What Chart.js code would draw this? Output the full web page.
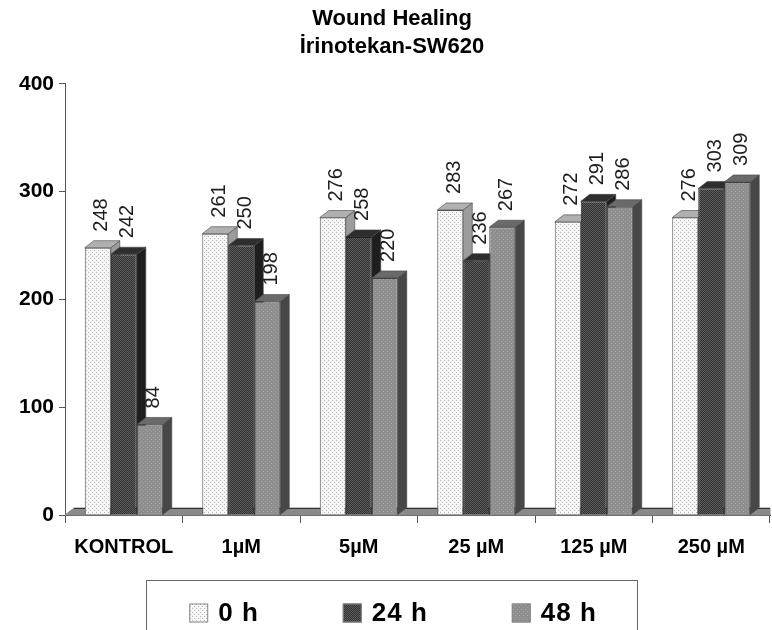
<!DOCTYPE html>
<html>
<head>
<meta charset="utf-8">
<script src="https://cdn.jsdelivr.net/npm/chart.js@4.4.1/dist/chart.umd.min.js"></script>
<style>
  html, body { margin: 0; padding: 0; background: #fff; overflow: hidden; }
  #wrap { width: 772px; height: 630px; position: relative; }
</style>
</head>
<body>
<div id="wrap"><canvas id="grafico"></canvas></div>
<script>
const categories = ['KONTROL', '1µM', '5µM', '25 µM', '125 µM', '250 µM'];
const seriesNames = ['0 h', '24 h', '48 h'];
const values0h = [248, 261, 276, 283, 272, 276];
const values24h = [242, 250, 258, 236, 291, 303];
const values48h = [84, 198, 220, 267, 286, 309];
const yTicks = [0, 100, 200, 300, 400];
const chartTitle = ['Wound Healing', 'İrinotekan-SW620'];

const FONT = "'Liberation Sans', Arial, sans-serif";
Chart.defaults.font.family = FONT;

// small texture tiles for the bar faces
function pattern(w, h, base, dots) {
  const t = document.createElement('canvas');
  t.width = w; t.height = h;
  const g = t.getContext('2d');
  g.fillStyle = base;
  g.fillRect(0, 0, w, h);
  dots.forEach(([x, y, col]) => { g.fillStyle = col; g.fillRect(x, y, 1, 1); });
  return g.createPattern(t, 'repeat');
}
const fill0h = pattern(4, 4, '#f6f6f6', [[0, 0, '#b5b5b5'], [2, 2, '#b5b5b5']]);
const fill24h = pattern(2, 2, '#333333', [[0, 0, '#5c5c5c'], [1, 1, '#5c5c5c']]);
const fill48h = pattern(4, 4, '#8e8e8e', [[1, 1, '#a2a2a2'], [3, 3, '#a2a2a2']]);
const fills = [fill0h, fill24h, fill48h];

const depthX = 9, depthY = 7;
const faces = [
  { side: '#9c9c9c', top: '#b0b0b0' },
  { side: '#1e1e1e', top: '#2e2e2e' },
  { side: '#474747', top: '#6a6a6a' }
];

function poly(c, pts) {
  c.beginPath();
  pts.forEach(([x, y], i) => i ? c.lineTo(x, y) : c.moveTo(x, y));
  c.closePath();
  c.fill();
  c.stroke();
}

// floor + side/top faces, then the library's own bar drawing, dataset by dataset
const barras3d = {
  id: 'barras3d',
  beforeDatasetsDraw(chart) {
    const c = chart.ctx, a = chart.chartArea;
    c.save();
    c.fillStyle = '#8a8a8a';
    c.strokeStyle = '#8a8a8a';
    poly(c, [[a.left, a.bottom], [a.left + depthX, a.bottom - depthY], [a.right, a.bottom - depthY], [a.right, a.bottom]]);
    c.strokeStyle = '#333';
    c.beginPath();
    c.moveTo(a.left + depthX, a.bottom - depthY + 0.5);
    c.lineTo(a.right, a.bottom - depthY + 0.5);
    c.stroke();

    c.lineWidth = 0.6;
    chart.data.datasets.forEach((ds, i) => {
      const meta = chart.getDatasetMeta(i);
      meta.data.forEach(el => {
        const { x, y, base, width } = el.getProps(['x', 'y', 'base', 'width'], true);
        const l = x - width / 2, r = x + width / 2;
        c.strokeStyle = '#444';
        c.fillStyle = faces[i].side;
        poly(c, [[r, y], [r + depthX, y - depthY], [r + depthX, base - depthY], [r, base]]);
        c.fillStyle = faces[i].top;
        poly(c, [[l, y], [l + depthX, y - depthY], [r + depthX, y - depthY], [r, y]]);
        el.draw(c, a);
      });
    });
    c.restore();
    return false;
  }
};

// rotated value labels + legend box
const rotulos = {
  id: 'rotulos',
  afterDraw(chart) {
    const c = chart.ctx, a = chart.chartArea;
    c.save();
    c.fillStyle = '#1e1e1e';
    c.font = '20px ' + FONT;
    c.textAlign = 'left';
    c.textBaseline = 'middle';
    chart.data.datasets.forEach((ds, i) => {
      chart.getDatasetMeta(i).data.forEach((el, j) => {
        c.save();
        c.translate(el.x + 4, el.y - depthY - 9);
        c.rotate(-Math.PI / 2);
        c.fillText(String(ds.data[j]), 0, 0);
        c.restore();
      });
    });

    // legend
    c.font = 'bold 26px ' + FONT;
    c.letterSpacing = '1px';
    const box = 19, gapTxt = 10, gapItem = 84;
    const widths = seriesNames.map(n => box + gapTxt + c.measureText(n).width);
    const total = widths.reduce((s, w) => s + w, 0) + gapItem * (widths.length - 1);
    let x = chart.width / 2 + 7 - total / 2;
    const cy = a.bottom + 98;
    c.strokeStyle = '#666';
    c.lineWidth = 1;
    c.strokeRect(Math.round(x - 43) + 0.5, a.bottom + 65.5, Math.round(total + 83), 80);
    seriesNames.forEach((n, i) => {
      c.fillStyle = fills[i];
      c.fillRect(x, cy - box / 2, box, box);
      c.strokeStyle = '#888';
      c.strokeRect(x + 0.5, cy - box / 2 + 0.5, box - 1, box - 1);
      c.fillStyle = '#000';
      c.fillText(n, x + box + gapTxt, cy + 1);
      x += widths[i] + gapItem;
    });
    c.restore();
  }
};

new Chart(document.getElementById('grafico'), {
  type: 'bar',
  data: {
    labels: categories,
    datasets: [
      { label: seriesNames[0], data: values0h, backgroundColor: fill0h, borderColor: '#555', borderWidth: 1 },
      { label: seriesNames[1], data: values24h, backgroundColor: fill24h, borderColor: '#222', borderWidth: 1 },
      { label: seriesNames[2], data: values48h, backgroundColor: fill48h, borderColor: '#444', borderWidth: 1 }
    ]
  },
  options: {
    animation: false,
    responsive: true,
    maintainAspectRatio: false,
    layout: { padding: { left: 14, right: 2, top: 0, bottom: 59 } },
    datasets: { bar: { categoryPercentage: 0.664, barPercentage: 1 } },
    plugins: {
      legend: { display: false },
      tooltip: { enabled: false },
      title: {
        display: true,
        text: chartTitle,
        color: '#000',
        font: { size: 22, weight: 'bold', lineHeight: 1.27 },
        padding: { top: 5, bottom: 23 }
      }
    },
    scales: {
      x: {
        grid: { offset: true, drawOnChartArea: false, tickLength: 8, color: '#555' },
        border: { color: '#555' },
        ticks: { color: '#000', font: { size: 20, weight: 'bold' }, padding: 12, maxRotation: 0, autoSkip: false }
      },
      y: {
        min: 0,
        max: 400,
        afterBuildTicks: s => { s.ticks = yTicks.map(v => ({ value: v })); },
        grid: { drawOnChartArea: false, tickLength: 6, color: '#555' },
        border: { color: '#555' },
        ticks: { color: '#000', font: { size: 21, weight: 'bold' }, padding: 5 }
      }
    }
  },
  plugins: [barras3d, rotulos]
});
</script>
</body>
</html>
